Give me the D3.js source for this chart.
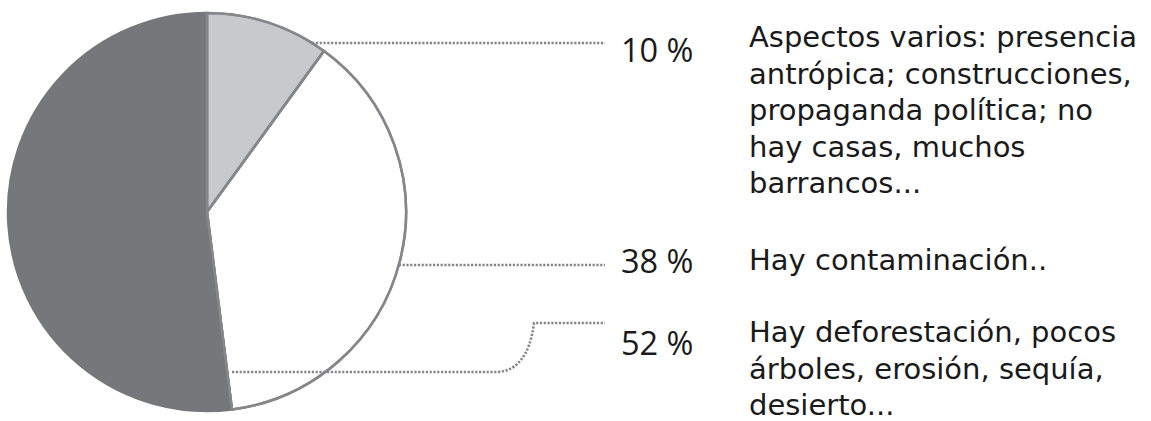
<!DOCTYPE html>
<html><head><meta charset="utf-8">
<script src="https://cdn.jsdelivr.net/npm/d3@7"></script>
<style>body{margin:0;background:#fff}svg{display:block}</style>
</head><body>
<script>
const categories = ["Aspectos varios", "Contaminación", "Deforestación"];
const values = [10, 38, 52];
const percentLabels = ["10 %", "38 %", "52 %"];
const descriptions = [
  ["Aspectos varios: presencia", "antrópica; construcciones,", "propaganda política; no", "hay casas, muchos", "barrancos..."],
  ["Hay contaminación.."],
  ["Hay deforestación, pocos", "árboles, erosión, sequía,", "desierto..."]
];
const fills = ["#c8c9cb", "#ffffff", "#76777a"];

const W = 1151, H = 421;
const cx = 207, cy = 212, R = 199;
const svg = d3.select("body").append("svg").attr("width", W).attr("height", H);

const pie = d3.pie().sort(null).value(d => d);
const arc = d3.arc().innerRadius(0).outerRadius(R);
const arcs = pie(values);

const g = svg.append("g").attr("transform", `translate(${cx},${cy})`);
g.selectAll("path").data(arcs).join("path")
  .attr("d", arc)
  .attr("fill", (d, i) => fills[i])
  .attr("stroke", (d, i) => i === 2 ? "#76777a" : "#86878a")
  .attr("stroke-width", 2.5)
  .attr("stroke-linejoin", "round");
g.selectAll("path.o").data(arcs.slice(0, 2)).join("path")
  .attr("class", "o")
  .attr("d", arc)
  .attr("fill", "none")
  .attr("stroke", "#86878a")
  .attr("stroke-width", 2.5);

// leader lines
const labelX = 605;
const leaders = [
  `M${cx + Math.sqrt(R*R - (43-cy)*(43-cy))},43 H${labelX}`,
  `M${cx + Math.sqrt(R*R - (265-cy)*(265-cy))},265 H${labelX}`,
  `M232,372 H496 C516,372 530,356 534,323 H${labelX}`
];
svg.selectAll("path.leader").data(leaders).join("path")
  .attr("class", "leader")
  .attr("d", d => d)
  .attr("fill", "none")
  .attr("stroke", "#858585")
  .attr("stroke-width", 2.6)
  .attr("stroke-dasharray", "2.2,1.6");

const pctY = [62, 273, 355];
svg.selectAll("text.pct").data(percentLabels).join("text")
  .attr("class", "pct")
  .attr("x", 621).attr("y", (d, i) => pctY[i])
  .attr("font-family", "'Open Sans', sans-serif")
  .attr("font-size", 32.5)
  .attr("fill", "#1a1a1a")
  .text(d => d);

const descY = [47, 270, 342];
const lineH = 36.6;
descriptions.forEach((lines, i) => {
  const t = svg.append("text")
    .attr("x", 749).attr("y", descY[i])
    .attr("font-family", "'DejaVu Sans', sans-serif")
    .attr("font-size", 29)
    .attr("fill", "#1a1a1a");
  lines.forEach((l, j) => {
    t.append("tspan").attr("x", 749).attr("y", descY[i] + j * lineH).text(l);
  });
});
</script>
</body></html>
